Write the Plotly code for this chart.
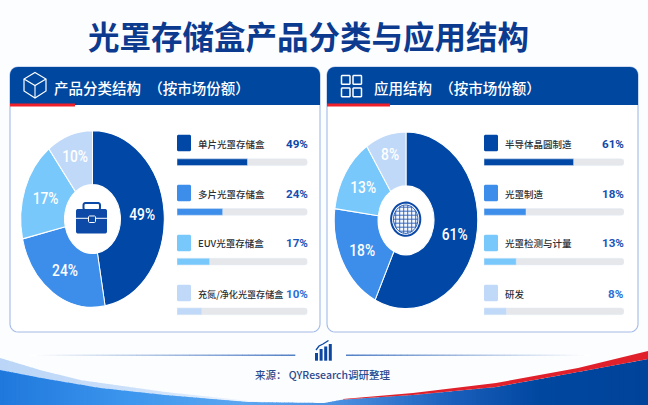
import numpy as np
import plotly.graph_objects as go

W, H = 648, 405
CJK = "Noto Sans CJK SC"

title = "光罩存储盒产品分类与应用结构"
source = "来源： QYResearch调研整理"

left_title = "产品分类结构\u2002（按市场份额）"
left_names = ["单片光罩存储盒", "多片光罩存储盒", "EUV光罩存储盒", "充氮/净化光罩存储盒"]
left_labels = ["49%", "24%", "17%", "10%"]
left_slices = [47.2, 24.2, 18.2, 10.4]
left_fills = [54, 35, 25, 19]

right_title = "应用结构\u2002（按市场份额）"
right_names = ["半导体晶圆制造", "光罩制造", "光罩检测与计量", "研发"]
right_labels = ["61%", "18%", "13%", "8%"]
right_slices = [57.1, 20.0, 13.7, 9.2]
right_fills = [64, 30, 23, 16]

colors = ["#0047A6", "#3D8EEA", "#78C8FB", "#C0D9F8"]
pct_colors = ["#0D47A8", "#1550B2", "#1A55BC", "#2A6FD8"]
NAVY = "#0D4AA8"


def px(x):
    return x / W


def py(y):
    return 1 - y / H


def P(pts, close=True):
    s = "M" + " L".join(f"{px(x):.5f},{py(y):.5f}" for x, y in pts)
    return s + (" Z" if close else "")


def rrect(x0, y0, x1, y1, r):
    """Rounded rectangle as a polygon path; r may be (tl, tr, br, bl)."""
    rs = (r, r, r, r) if np.isscalar(r) else r
    corners = [(x0 + rs[0], y0 + rs[0], rs[0], 180), (x1 - rs[1], y0 + rs[1], rs[1], 270),
               (x1 - rs[2], y1 - rs[2], rs[2], 0), (x0 + rs[3], y1 - rs[3], rs[3], 90)]
    pts = []
    for cx, cy, rad, a0 in corners:
        for a in np.radians(np.linspace(a0, a0 + 90, 7)):
            pts.append((cx + rad * np.cos(a), cy + rad * np.sin(a)))
    return P(pts)


shapes, annos = [], []


def shape(path, fill=None, line=None, lw=0, layer="below"):
    shapes.append(dict(type="path", xref="paper", yref="paper", path=path, layer=layer,
                       fillcolor=fill or "rgba(0,0,0,0)",
                       line=dict(color=line or "rgba(0,0,0,0)", width=lw)))


def text(x, y, s, size, color, anchor="left", bold=False, family=CJK, weight=None):
    font = dict(size=size, color=color, family=family)
    if weight:
        font["weight"] = weight
    annos.append(dict(xref="paper", yref="paper", x=px(x), y=py(y), text=f"<b>{s}</b>" if bold else s,
                      showarrow=False, xanchor=anchor, yanchor="middle", font=font))


def mix(a, b, t):
    a = np.array([int(a[i:i + 2], 16) for i in (1, 3, 5)])
    b = np.array([int(b[i:i + 2], 16) for i in (1, 3, 5)])
    c = (a + (b - a) * t).round().astype(int)
    return "#%02X%02X%02X" % tuple(c)


def ramp(x, stops):
    xs = [s[0] for s in stops]
    i = min(max(np.searchsorted(xs, x) - 1, 0), len(stops) - 2)
    t = np.clip((x - xs[i]) / (xs[i + 1] - xs[i]), 0, 1)
    return mix(stops[i][1], stops[i + 1][1], t)


# ---- bottom wave -------------------------------------------------------
band_x = [0, 40, 80, 165, 250, 330]
band_y = [358, 370, 380, 392, 401, 405]
blue_x = [0, 41, 100, 165, 248, 324, 343, 413, 496, 578, 648]
blue_y = [370, 378, 388, 395, 402, 403, 399.5, 395, 387, 372, 359]
blue_stops = [(0, "#1F78DC"), (130, "#3D97EE"), (240, "#5CA6F0"), (330, "#4E92E2"),
              (450, "#1A5FBB"), (540, "#0047A0"), (648, "#00439A")]
step = 4
xs_band = np.arange(0, 300, step)
for x in xs_band:
    x1 = x + step + 0.5
    shape(P([(x, np.interp(x, band_x, band_y)), (x1, np.interp(x1, band_x, band_y)), (x1, 405), (x, 405)]),
          fill=ramp(x, [(0, "#BAD5F7"), (150, "#CFE2FA"), (290, "#FFFFFF")]))
for x in np.arange(0, W, step):
    x1 = x + step + 0.5
    shape(P([(x, np.interp(x, blue_x, blue_y)), (x1, np.interp(x1, blue_x, blue_y)), (x1, 405), (x, 405)]),
          fill=ramp(x, blue_stops))
red_top = [(343, 399), (413, 393), (496, 383), (578, 368), (648, 351)]
red_bot = [(648, 359), (578, 372), (496, 387), (413, 395), (343, 399.5)]
shape(P(red_top + red_bot), fill="#E0202A")

# ---- source rule lines -------------------------------------------------
for a, b, c0, c1 in [(30, 295, "#FFFFFF", "#2A62B8"), (346, 590, "#2A62B8", "#FFFFFF")]:
    n = 40
    edges = np.linspace(a, b, n + 1)
    for i in range(n):
        shape(P([(edges[i], 354.6), (edges[i + 1] + 0.3, 354.6), (edges[i + 1] + 0.3, 355.8), (edges[i], 355.8)]),
              fill=mix(c0, c1, i / (n - 1)))

# chart icon
for bx, top in [(315, 353), (319.6, 349), (324.2, 346.5), (328.8, 344)]:
    shape(P([(bx, top), (bx + 3, top), (bx + 3, 360.7), (bx, 360.7)]), fill="#0D47A1")
shape(P([(316, 350), (319, 346), (323, 344), (328.5, 340.5)], close=False), line="#0D47A1", lw=1.3)

# ---- panels ------------------------------------------------------------
for x0, x1, red_end in [(10, 320, 75), (327, 638, 390)]:
    shape(rrect(x0, 67, x1, 332, 8), fill="#FFFFFF", line="#A3BAE6", lw=1.1)
    shape(rrect(x0, 67, x1, 105, (8, 8, 0, 0)), fill="#0047A0")
    shape(P([(x0, 103.6), (red_end, 103.6), (red_end, 106.4), (x0, 106.4)]), fill="#F0202A")

WH = "#FFFFFF"
# cube icon
shape(P([(35, 72.5), (46, 79), (46, 91), (35, 98), (24, 91), (24, 79)]), line=WH, lw=1.2)
shape(P([(24, 79), (35, 85.5), (46, 79)], close=False), line=WH, lw=1.1)
shape(P([(35, 85.5), (35, 98)], close=False), line=WH, lw=1.1)
# grid icon
for gx in (341.5, 353):
    for gy in (75.5, 88):
        shape(rrect(gx, gy, gx + 8.5, gy + 8.8, 0.8), line=WH, lw=1.5)

text(52, 88, left_title, 14.5, WH, weight=500)
text(371.5, 88, right_title, 14.5, WH, weight=500)
text(308, 35, title, 31.5, "#0B3A8E", anchor="center", bold=True)
text(322.5, 374, source, 10.5, "#2C4A8E", anchor="center", weight=500)

# ---- legend rows -------------------------------------------------------
row_y = [143, 193, 243, 293]
for x_sw, x_txt, x_pct, names, labels in [(177, 195.5, 309.5, left_names, left_labels),
                                          (484, 502.5, 625.5, right_names, right_labels)]:
    for i in range(4):
        shape(rrect(x_sw, row_y[i] - 8.3, x_sw + 14, row_y[i] + 8.3, 1.5), fill=colors[i])
        fs = 9.1 if len(names[i]) > 9 else 9.5
        text(x_txt, row_y[i] + 0.5, names[i], fs, "#2B2F36", weight=500)
        text(x_pct, row_y[i] + 0.5, labels[i], 11.6, pct_colors[i], anchor="right", bold=True, family="Roboto")

# ---- hub icons (drawn above the pies) ----------------------------------
shape(rrect(76, 209, 107, 233.5, 2), fill=NAVY, layer="above")
shape(rrect(83.5, 203, 100, 210, 2), line=NAVY, lw=2, layer="above")
shape(P([(76, 218.3), (107, 218.3)], close=False), line=WH, lw=1, layer="above")
shape(rrect(88.5, 216, 95.5, 222.5, 1), fill=NAVY, line=WH, lw=1, layer="above")

wx, wy = 405.7, 219.2
th = np.radians(np.arange(0, 360, 8))
shape(P(list(zip(wx + 14.6 * np.cos(th), wy + 16.6 * np.sin(th)))), fill=WH, line=NAVY, lw=2, layer="above")
shape(P(list(zip(wx + 12.2 * np.cos(th), wy + 14.2 * np.sin(th)))), fill="#F4F8FF", line="#2A5FB5", lw=1, layer="above")
for g in np.arange(-10, 11, 4):
    half = 14.2 * np.sqrt(1 - (g / 12.2) ** 2)
    shape(P([(wx + g, wy - half), (wx + g, wy + half)], close=False), line="#2A5FB5", lw=0.9, layer="above")
for g in np.arange(-12, 13, 4):
    half = 12.2 * np.sqrt(1 - (g / 14.2) ** 2)
    shape(P([(wx - half, wy + g), (wx + half, wy + g)], close=False), line="#2A5FB5", lw=0.9, layer="above")

# ---- charts ------------------------------------------------------------
fig = go.Figure()
PIE_R = 88.3
left_c = (92.5, 219.0)
right_c = (406.0, 220.3)
for (cx, cy), names, slices, labels in [(left_c, left_names, left_slices, left_labels),
                                        (right_c, right_names, right_slices, right_labels)]:
    fig.add_trace(go.Pie(
        labels=names, values=slices, text=labels, textinfo="text", sort=False,
        direction="clockwise", rotation=0, hole=0.39, showlegend=False,
        textposition="inside", insidetextorientation="horizontal",
        textfont=dict(size=17, color="#FFFFFF", family="Roboto", weight=500),
        marker=dict(colors=colors, line=dict(color="#FFFFFF", width=1.2)),
        domain=dict(x=[px(cx - PIE_R), px(cx + PIE_R)], y=[py(cy + PIE_R), py(cy - PIE_R)]),
    ))

bar_h = 6.7 / 49.7
for sfx, names, fills in [("", left_names, left_fills), ("2", right_names, right_fills)]:
    fig.add_trace(go.Bar(y=names, x=[100] * 4, orientation="h", width=bar_h, xaxis="x" + sfx, yaxis="y" + sfx,
                         marker=dict(color="#E5E7EB"), showlegend=False, hoverinfo="skip"))
    fig.add_trace(go.Bar(y=names, x=fills, orientation="h", width=bar_h, xaxis="x" + sfx, yaxis="y" + sfx,
                         marker=dict(color=colors), showlegend=False))

row0, pitch = 162.2, 49.7
ydom = [py(row0 + 3.5 * pitch), py(row0 - 0.5 * pitch)]
fig.update_layout(
    width=W, height=H, margin=dict(l=0, r=0, t=0, b=0), autosize=False,
    paper_bgcolor="#FCFDFF", plot_bgcolor="rgba(0,0,0,0)",
    barmode="overlay", barcornerradius=3,
    shapes=shapes, annotations=annos,
    xaxis=dict(domain=[px(177), px(307.5)], range=[0, 100], visible=False),
    yaxis=dict(domain=ydom, range=[3.5, -0.5], visible=False),
    xaxis2=dict(domain=[px(484), px(624)], range=[0, 100], visible=False, anchor="y2"),
    yaxis2=dict(domain=ydom, range=[3.5, -0.5], visible=False, anchor="x2"),
)

# The reference draws its rings as ellipses: narrow each pie about its centre.
sx = 143.5 / (2 * PIE_R)
post = """
document.body.style.margin = '0';
var gd = document.getElementById('{plot_id}');
var cxs = [%f, %f], s = %f;
function squeeze() {
  gd.querySelectorAll('.pielayer .trace').forEach(function (t, i) {
    t.setAttribute('transform', 'translate(' + cxs[i] + ',0) scale(' + s + ',1) translate(' + (-cxs[i]) + ',0)');
  });
}
squeeze();
gd.on('plotly_afterplot', squeeze);
""" % (left_c[0], right_c[0], sx)

fig.write_html("out.html", config=dict(displayModeBar=False), post_script=post)
